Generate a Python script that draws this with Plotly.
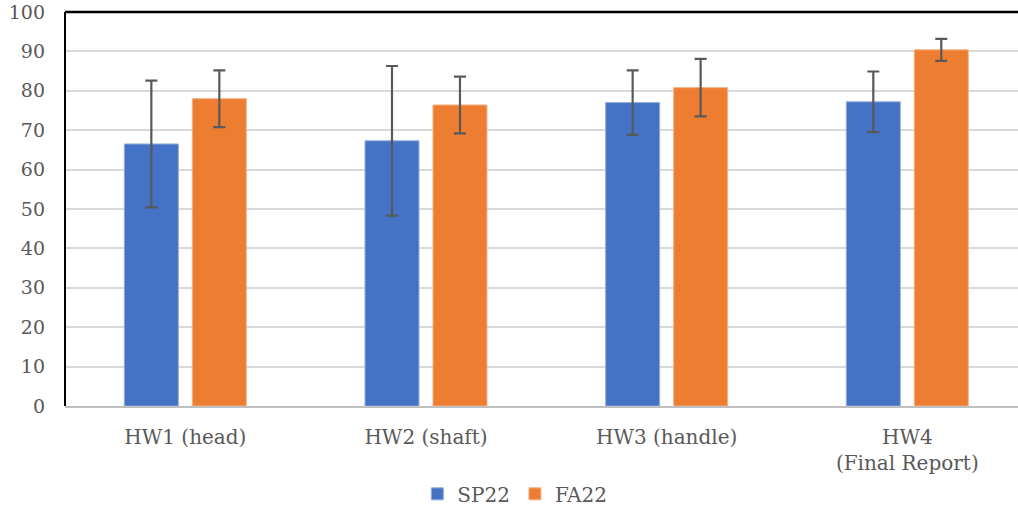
import plotly.graph_objects as go

categories = ["HW1 (head)", "HW2 (shaft)", "HW3 (handle)", "HW4<br>(Final Report)"]
sp22 = [66.5, 67.3, 77.0, 77.2]
sp22_err = [16.1, 19.0, 8.2, 7.7]
fa22 = [78.0, 76.4, 80.8, 90.4]
fa22_err = [7.2, 7.2, 7.3, 2.8]
y_ticks = [0, 10, 20, 30, 40, 50, 60, 70, 80, 90, 100]

font_family = "DejaVu Serif, Liberation Serif, serif"
text_color = "#595959"

fig = go.Figure()
fig.add_trace(go.Bar(
    x=categories, y=sp22, name="SP22",
    marker=dict(color="#4472C4", line=dict(color="#8faadc", width=1)),
    error_y=dict(type="data", array=sp22_err, visible=True, color="#595959", thickness=2.2, width=6),
))
fig.add_trace(go.Bar(
    x=categories, y=fa22, name="FA22",
    marker=dict(color="#ED7D31", line=dict(color="#f4b183", width=1)),
    error_y=dict(type="data", array=fa22_err, visible=True, color="#595959", thickness=2.2, width=6),
))

fig.update_layout(
    width=1018, height=506,
    margin=dict(l=65, r=0, t=12, b=100, autoexpand=False),
    paper_bgcolor="white", plot_bgcolor="white",
    barmode="group", bargap=0.435, bargroupgap=0.206,
    font=dict(family=font_family, size=20, color=text_color),
    showlegend=True,
    legend=dict(orientation="h", x=0.472, xanchor="center", y=-0.223, yanchor="middle",
                font=dict(size=20, color=text_color), itemwidth=30, traceorder="normal"),
    xaxis=dict(range=[-0.5, 3.46], showgrid=False, showline=True, linecolor="#bfbfbf",
               linewidth=2, ticks="", automargin=False, ticklabelstandoff=12,
               tickfont=dict(size=20, color=text_color)),
    yaxis=dict(range=[0, 100], tickvals=y_ticks, showgrid=True, gridcolor="#d9d9d9",
               gridwidth=2, zeroline=False, showline=False, ticks="", automargin=False,
               tickfont=dict(size=19, color=text_color), ticklabelstandoff=19),
    shapes=[
        dict(type="line", xref="paper", yref="paper", x0=0, x1=0, y0=0, y1=1,
             line=dict(color="black", width=2)),
        dict(type="line", xref="paper", yref="paper", x0=0, x1=1, y0=1, y1=1,
             line=dict(color="black", width=2.5)),
    ],
)

fig.write_html("out.html", config={"displayModeBar": False},
               post_script="document.body.style.margin='0';")
